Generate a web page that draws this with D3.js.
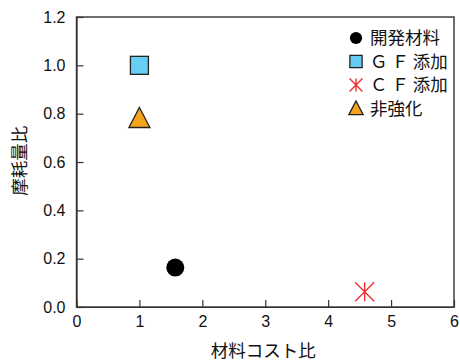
<!DOCTYPE html>
<html>
<head>
<meta charset="utf-8">
<script src="https://cdn.jsdelivr.net/npm/d3@7"></script>
<style>
  body { margin: 0; background: #fff; }
  .axis text { font-family: "Liberation Sans", Arial, sans-serif; font-size: 16px; fill: #111; }
  .axis path, .axis line { stroke: #333; stroke-width: 1.2px; }
  .label { font-family: "Noto Sans CJK JP", sans-serif; font-size: 17.5px; fill: #111; }
</style>
</head>
<body>
<div id="chart"></div>
<script>

// Data
var seriesNames = ["開発材料", "ＧＦ添加", "ＣＦ添加", "非強化"];
var costRatio = [1.57, 1.0, 4.58, 1.0];
var wearRatio = [0.163, 1.0, 0.063, 0.78];
var xTicks = [0, 1, 2, 3, 4, 5, 6];
var yTicks = [0.0, 0.2, 0.4, 0.6, 0.8, 1.0, 1.2];

var legendLabels = ["開発材料", "Ｇ Ｆ 添加", "Ｃ Ｆ 添加", "非強化"];

var margin = { top: 17, right: 6, bottom: 55, left: 76.5 };
var width = 460 - margin.left - margin.right;
var height = 362 - margin.top - margin.bottom;

var svg = d3.select("#chart").append("svg")
    .attr("width", 460)
    .attr("height", 362)
  .append("g")
    .attr("transform", "translate(" + margin.left + "," + margin.top + ")");

var x = d3.scaleLinear().domain([0, 6]).range([0, width]);
var y = d3.scaleLinear().domain([0, 1.2]).range([height, 0]);

// frame
svg.append("rect")
    .attr("width", width)
    .attr("height", height)
    .attr("fill", "none")
    .attr("stroke", "#333")
    .attr("stroke-width", 1.4);

var xAxis = d3.axisBottom(x).tickValues(xTicks).tickSizeInner(-7).tickSizeOuter(0).tickPadding(9)
    .tickFormat(d3.format("d"));
var yAxis = d3.axisLeft(y).tickValues(yTicks).tickSizeInner(-7).tickSizeOuter(0).tickPadding(11)
    .tickFormat(d3.format(".1f"));

svg.append("g").attr("class", "x-axis axis")
    .attr("transform", "translate(0," + height + ")")
    .call(xAxis);
svg.append("g").attr("class", "y-axis axis").call(yAxis);
svg.selectAll(".axis .domain").attr("stroke-width", 1.6);

// axis titles
svg.append("text").attr("class", "label")
    .attr("x", x(3) - 2)
    .attr("y", height + 50)
    .attr("text-anchor", "middle")
    .text("材料コスト比");

svg.append("text").attr("class", "label")
    .attr("transform", "translate(" + (-51) + "," + y(0.605) + ") rotate(-90)")
    .attr("text-anchor", "middle")
    .text("摩耗量比");

// marker drawing
function drawMarker(g, i, s) {
    if (i === 0) {
        g.append("circle").attr("r", 9 * s).attr("fill", "#000");
    } else if (i === 1) {
        var h = 9 * s;
        g.append("rect").attr("x", -h).attr("y", -h).attr("width", 2 * h).attr("height", 2 * h)
            .attr("fill", "#66cdf5").attr("stroke", "#222").attr("stroke-width", 1.3);
    } else if (i === 2) {
        var a = 9.5 * s;
        g.append("path")
            .attr("d", "M" + (-a) + "," + (-a) + "L" + a + "," + a +
                       "M" + (-a) + "," + a + "L" + a + "," + (-a) +
                       "M0," + (-a) + "L0," + a)
            .attr("stroke", "#f03030").attr("stroke-width", 1.4).attr("fill", "none");
    } else {
        var w = 10.5 * s, t = 10 * s;
        g.append("path")
            .attr("d", "M0," + (-t - 1 * s) + "L" + w + "," + (t - 1 * s) + "L" + (-w) + "," + (t - 1 * s) + "Z")
            .attr("fill", "#f7a41d").attr("stroke", "#222").attr("stroke-width", 1.3);
    }
}

// points
seriesNames.forEach(function(name, i) {
    var g = svg.append("g")
        .attr("transform", "translate(" + x(costRatio[i]) + "," + y(wearRatio[i]) + ")");
    drawMarker(g, i, 1);
});

// legend
var legend = svg.append("g").attr("transform", "translate(" + (356 - margin.left) + "," + (38 - margin.top) + ")");
legendLabels.forEach(function(name, i) {
    var row = legend.append("g").attr("transform", "translate(0," + (i * 23.5) + ")");
    drawMarker(row, i, 0.68);
    row.append("text").attr("class", "label")
        .attr("x", 14)
        .attr("y", 6)
        .text(name);
});

</script>
</body>
</html>
